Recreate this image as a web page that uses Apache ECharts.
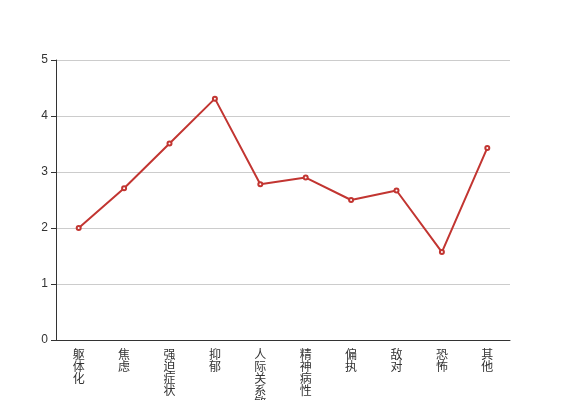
<!DOCTYPE html>
<html><head><meta charset="utf-8">
<script src="https://cdn.jsdelivr.net/npm/echarts@6/dist/echarts.min.js"></script>
<style>html,body{margin:0;padding:0;background:#fff}#c{width:567px;height:400px}</style>
</head><body><div id="c"></div>
<script>
var categories = ['躯体化','焦虑','强迫症状','抑郁','人际关系敏感','精神病性','偏执','敌对','恐怖','其他'];
var values = [2.0, 2.71, 3.51, 4.31, 2.78, 2.9, 2.5, 2.67, 1.57, 3.43];
var yTicks = {min: 0, max: 5, interval: 1};
var chart = echarts.init(document.getElementById('c'));
chart.setOption({
  animation: false,
  grid: {left: 56, right: 57, top: 60, bottom: 60, containLabel: false, outerBoundsMode: 'none'},
  xAxis: {
    type: 'category', data: categories, boundaryGap: true,
    axisLine: {lineStyle: {color: '#333'}},
    axisTick: {lineStyle: {color: '#333'}},
    axisLabel: {
      interval: 0, color: '#333', fontSize: 12, lineHeight: 12, margin: 8,
      fontFamily: 'Noto Sans CJK SC',
      formatter: function (v) { return v.split('').join('\n'); }
    }
  },
  yAxis: {
    type: 'value', min: yTicks.min, max: yTicks.max, interval: yTicks.interval,
    axisLine: {show: true, lineStyle: {color: '#333'}},
    axisTick: {show: true, lineStyle: {color: '#333'}},
    axisLabel: {color: '#333', fontSize: 12},
    splitLine: {lineStyle: {color: '#ccc'}}
  },
  series: [{
    type: 'line', data: values,
    symbol: 'emptyCircle', symbolSize: 4,
    itemStyle: {color: '#c23531', borderWidth: 1},
    lineStyle: {color: '#c23531', width: 2}
  }]
});
</script></body></html>
